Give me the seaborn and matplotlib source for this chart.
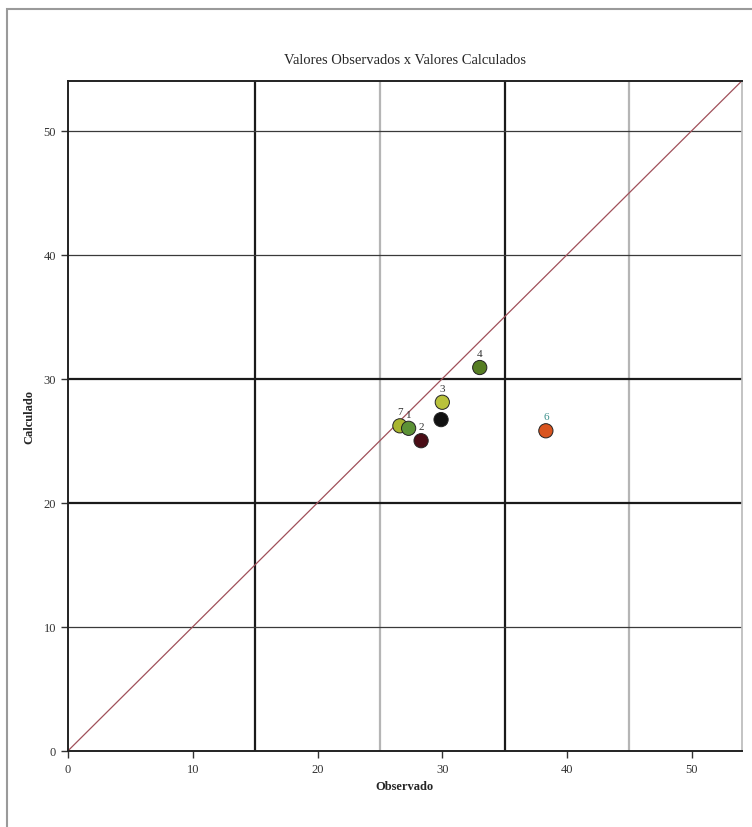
import matplotlib
matplotlib.use("Agg")
import matplotlib.pyplot as plt
import pandas as pd
import seaborn as sns
from matplotlib.patches import Rectangle

sns.set_theme(style="white")
plt.rcParams["font.family"] = ["Liberation Serif", "DejaVu Serif"]

# data
point_labels = ["7", "1", "2", "5", "3", "4", "6"]
observado = [26.6, 27.3, 28.3, 29.9, 30.0, 33.0, 38.3]
calculado = [26.2, 26.0, 25.0, 26.7, 28.1, 30.9, 25.8]
point_colors = ["#a9b52e", "#5c9236", "#4a0d16", "#111111", "#b9c23c", "#557d22", "#d9541f"]
label_colors = ["#333333", "#333333", "#333333", "#333333", "#333333", "#333333", "#3a8f8a"]
x_ticks = [0, 10, 20, 30, 40, 50]
y_ticks = [0, 10, 20, 30, 40, 50]
v_black = [15, 35]
v_gray = [25, 45]
h_black = [20, 30]
h_gray = [10, 40, 50]
axis_max = 54

df = pd.DataFrame({"Observado": observado, "Calculado": calculado, "ponto": point_labels})

fig = plt.figure(figsize=(7.52, 8.28), dpi=100)
fig.patches.append(Rectangle((0.009, -0.01), 1.0, 0.998, transform=fig.transFigure,
                             fill=False, edgecolor="#9a9a9a", linewidth=1.5))
ax = fig.add_axes([0.0904, 0.092, 0.896, 0.809])

for v in v_gray:
    ax.axvline(v, color="#b5b5b5", linewidth=1.6, zorder=0)
for v in v_black:
    ax.axvline(v, color="#1a1a1a", linewidth=1.6, zorder=0)
for h in h_gray:
    ax.axhline(h, color="#3a3a3a", linewidth=0.9, zorder=0)
for h in h_black:
    ax.axhline(h, color="#1a1a1a", linewidth=1.6, zorder=0)

ax.plot([0, axis_max], [0, axis_max], color="#a0505a", linewidth=0.9, zorder=1)

sns.scatterplot(data=df, x="Observado", y="Calculado", hue="ponto",
                palette=dict(zip(point_labels, point_colors)), s=105,
                edgecolor="#222222", linewidth=0.7, legend=False, zorder=3, ax=ax)

for x, y, lab, c in zip(observado, calculado, point_labels, label_colors):
    ax.annotate(lab, (x, y), xytext=(0, 7), textcoords="offset points",
                ha="center", va="bottom", fontsize=8, color=c, zorder=2)

ax.set_xlim(0, axis_max)
ax.set_ylim(0, axis_max)
ax.set_xticks(x_ticks)
ax.set_yticks(y_ticks)
ax.tick_params(axis="both", which="both", length=5, width=1, direction="out",
               labelsize=9, colors="#333333", bottom=True, left=True)
for side in ["left", "bottom", "top"]:
    ax.spines[side].set_color("#222222")
    ax.spines[side].set_linewidth(1.4)
ax.spines["right"].set_color("#bbbbbb")

ax.set_xlabel("Observado", fontsize=9, fontweight="bold", labelpad=4)
ax.set_ylabel("Calculado", fontsize=9, fontweight="bold", labelpad=6)
ax.set_title("Valores Observados x Valores Calculados", fontsize=10.5, pad=13)

fig.savefig("out.png", dpi=100)
